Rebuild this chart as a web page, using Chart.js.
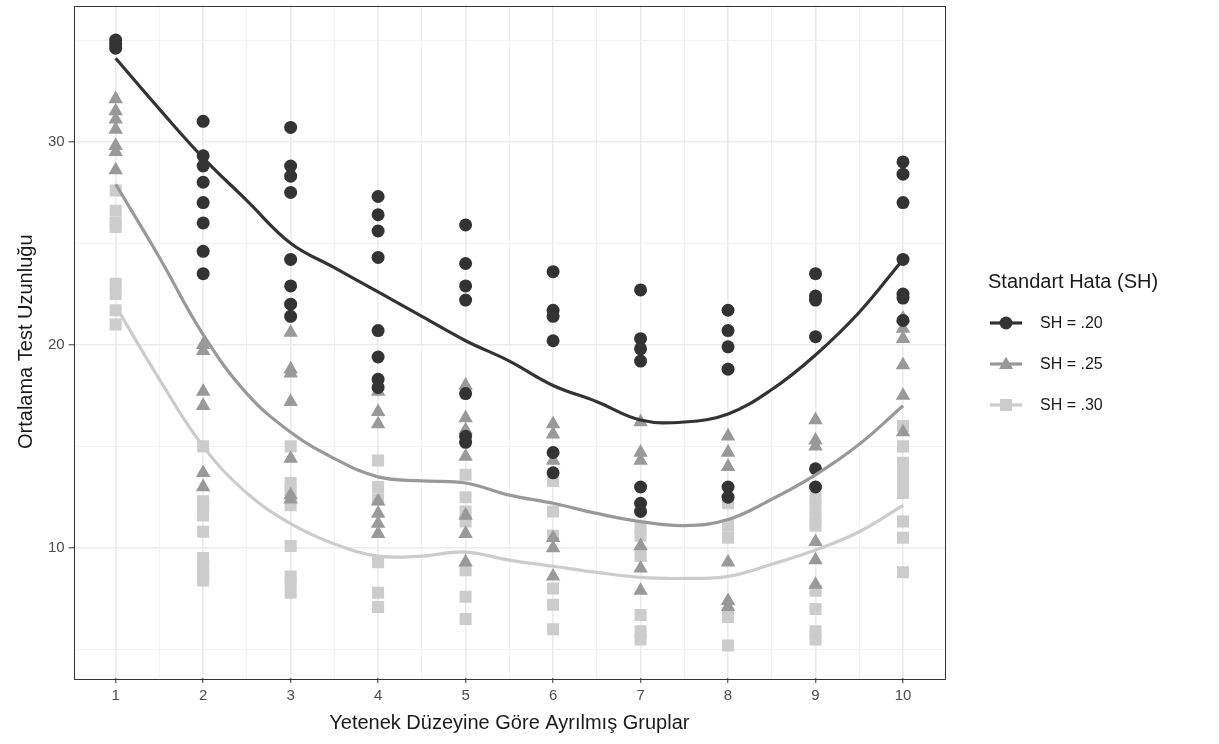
<!DOCTYPE html>
<html>
<head>
<meta charset="utf-8">
<script src="https://cdn.jsdelivr.net/npm/chart.js@4.4.0/dist/chart.umd.min.js"></script>
<style>
  html, body { margin: 0; padding: 0; background: #fff; }
  #wrap { position: relative; width: 1219px; height: 744px; font-family: "Liberation Sans", Arial, sans-serif; }
  #plot { position: absolute; left: 0; top: 0; }
  #legend { position: absolute; left: 988px; top: 270px; color: #1a1a1a; }
  #legend .title { font-size: 20px; margin-bottom: 9px; }
  #legend .row { display: flex; align-items: center; height: 41px; font-size: 16px; }
  #legend svg { margin-left: 2px; margin-right: 18px; }
</style>
</head>
<body>
<div id="wrap">
  <canvas id="plot" width="1219" height="744"></canvas>
  <div id="legend"></div>
</div>
<script>
// Gruplar (yetenek düzeyi)
const groups = [1, 2, 3, 4, 5, 6, 7, 8, 9, 10];

// SH = .20 gözlemleri, her grup için
const sh20 = [
    [35.0, 34.8, 34.6],
    [31.0, 29.3, 28.8, 28.0, 27.0, 26.0, 24.6, 23.5],
    [30.7, 28.8, 28.3, 27.5, 24.2, 22.9, 22.0, 21.4],
    [27.3, 26.4, 25.6, 24.3, 20.7, 19.4, 18.3, 17.9],
    [25.9, 24.0, 22.9, 22.2, 17.6, 15.5, 15.2],
    [23.6, 21.7, 21.4, 20.2, 14.7, 13.7],
    [22.7, 20.3, 19.8, 19.2, 13.0, 12.2, 11.8],
    [21.7, 20.7, 19.9, 18.8, 13.0, 12.5],
    [23.5, 22.4, 22.2, 20.4, 13.9, 13.0],
    [29.0, 28.4, 27.0, 24.2, 22.5, 22.3, 21.2]
];

// SH = .25
const sh25 = [
    [32.1, 31.5, 31.1, 30.6, 29.8, 29.5, 28.6],
    [20.0, 19.7, 17.7, 17.0, 13.7, 13.0],
    [20.6, 18.8, 18.6, 17.2, 14.4, 12.6, 12.4],
    [17.7, 16.7, 16.1, 12.3, 11.7, 11.2, 10.7],
    [18.0, 16.4, 15.8, 14.5, 11.6, 10.7, 9.3],
    [16.1, 15.6, 14.3, 10.5, 10.0, 8.6],
    [16.2, 14.7, 14.3, 10.1, 9.0, 7.9],
    [15.5, 14.7, 14.0, 9.3, 7.4, 7.1],
    [16.3, 15.3, 15.0, 10.3, 9.4, 8.2],
    [21.3, 20.8, 20.3, 19.0, 17.5, 15.7]
];

// SH = .30
const sh30 = [
    [27.6, 26.6, 26.0, 25.8, 23.0, 22.5, 21.7, 21.0],
    [15.0, 12.3, 12.0, 11.6, 10.8, 9.5, 9.1, 8.7, 8.4],
    [15.0, 13.2, 12.8, 12.1, 10.1, 8.6, 8.3, 7.8],
    [14.3, 13.0, 12.4, 9.3, 7.8, 7.1],
    [13.6, 12.5, 11.8, 11.3, 8.9, 7.6, 6.5],
    [13.3, 11.8, 10.6, 8.0, 7.2, 6.0],
    [11.0, 10.6, 9.6, 6.7, 5.9, 5.5],
    [12.2, 11.1, 10.5, 6.6, 5.2],
    [12.5, 12.0, 11.5, 11.1, 7.9, 7.0, 5.9, 5.5],
    [16.0, 15.0, 14.2, 13.7, 13.2, 12.7, 11.3, 10.5, 8.8]
];

// loess eğrileri (yarım grup aralıklarla)
const fitX = [1, 1.5, 2, 2.5, 3, 3.5, 4, 4.5, 5, 5.5, 6, 6.5, 7, 7.5, 8, 8.5, 9, 9.5, 10];
const fit20 = [34.1, 31.6, 29.2, 27.1, 25.0, 23.8, 22.6, 21.4, 20.2, 19.2, 18.0, 17.2, 16.3, 16.2, 16.6, 17.8, 19.5, 21.6, 24.2];
const fit25 = [27.9, 24.3, 20.5, 17.6, 15.7, 14.4, 13.5, 13.3, 13.2, 12.6, 12.2, 11.7, 11.3, 11.1, 11.4, 12.4, 13.6, 15.1, 17.0];
const fit30 = [21.9, 18.3, 15.0, 12.7, 11.2, 10.2, 9.6, 9.6, 9.8, 9.4, 9.1, 8.8, 8.55, 8.5, 8.6, 9.2, 9.9, 10.8, 12.1];

// eksen çizgileri ve etiketleri
const xGrid = [1, 1.5, 2, 2.5, 3, 3.5, 4, 4.5, 5, 5.5, 6, 6.5, 7, 7.5, 8, 8.5, 9, 9.5, 10];
const yGrid = [5, 10, 15, 20, 25, 30, 35];
const yLabels = [10, 20, 30];

const seriesNames = ['SH = .20', 'SH = .25', 'SH = .30'];
const colors = ['#333333', '#999999', '#cccccc'];

function toPoints(rows) {
    const pts = [];
    rows.forEach((vals, i) => vals.forEach(v => pts.push({ x: groups[i], y: v })));
    return pts;
}
function toCurve(ys) {
    return fitX.map((x, i) => ({ x: x, y: ys[i] }));
}

const panelBorder = {
    id: 'panelBorder',
    afterDatasetsDraw(chart) {
        const a = chart.chartArea, ctx = chart.ctx;
        ctx.save();
        ctx.strokeStyle = '#333333';
        ctx.lineWidth = 1;
        ctx.strokeRect(Math.round(a.left) + 0.5, Math.round(a.top) + 0.5,
            Math.round(a.right - a.left), Math.round(a.bottom - a.top));
        ctx.restore();
    }
};

const tickFont = { family: '"Liberation Sans", Arial, sans-serif', size: 15 };
const titleFont = { family: '"Liberation Sans", Arial, sans-serif', size: 20 };

const ctx = document.getElementById('plot').getContext('2d');
const chart = new Chart(ctx, {
    type: 'scatter',
    data: {
        datasets: [
            { label: seriesNames[0], data: toCurve(fit20), type: 'line', borderColor: colors[0], borderWidth: 3.2, pointRadius: 0, tension: 0.4, fill: false, order: 0 },
            { label: seriesNames[1], data: toCurve(fit25), type: 'line', borderColor: colors[1], borderWidth: 3.2, pointRadius: 0, tension: 0.4, fill: false, order: 0 },
            { label: seriesNames[2], data: toCurve(fit30), type: 'line', borderColor: colors[2], borderWidth: 3.2, pointRadius: 0, tension: 0.4, fill: false, order: 0 },
            { label: seriesNames[0], data: toPoints(sh20), pointStyle: 'circle', pointRadius: 6.5, backgroundColor: colors[0], borderWidth: 0, order: 1 },
            { label: seriesNames[1], data: toPoints(sh25), pointStyle: 'triangle', pointRadius: 8.4, backgroundColor: colors[1], borderWidth: 0, order: 2 },
            { label: seriesNames[2], data: toPoints(sh30), pointStyle: 'rect', pointRadius: 8.5, backgroundColor: colors[2], borderWidth: 0, order: 3 }
        ]
    },
    options: {
        responsive: false,
        animation: false,
        events: [],
        layout: { autoPadding: false, padding: { top: 0, right: 274, bottom: 9, left: 14 } },
        plugins: {
            legend: { display: false },
            tooltip: { enabled: false }
        },
        scales: {
            x: {
                type: 'linear',
                min: 0.52,
                max: 10.48,
                afterBuildTicks: s => { s.ticks = xGrid.map(v => ({ value: v })); },
                ticks: {
                    autoSkip: false,
                    maxRotation: 0,
                    padding: 4,
                    color: '#4d4d4d',
                    font: tickFont,
                    callback: v => Number.isInteger(v) ? String(v) : ''
                },
                grid: {
                    color: c => Number.isInteger(c.tick.value) ? '#ebebeb' : '#f2f2f2',
                    lineWidth: c => Number.isInteger(c.tick.value) ? 1.6 : 1,
                    tickColor: c => Number.isInteger(c.tick.value) ? '#333333' : 'rgba(0,0,0,0)',
                    tickLength: 5,
                    tickWidth: 1
                },
                border: { display: false },
                title: {
                    display: true,
                    text: 'Yetenek Düzeyine Göre Ayrılmış Gruplar',
                    color: '#1a1a1a',
                    font: titleFont,
                    padding: { top: 2, bottom: 0 }
                }
            },
            y: {
                type: 'linear',
                min: 3.6,
                max: 36.7,
                afterBuildTicks: s => { s.ticks = yGrid.map(v => ({ value: v })); },
                ticks: {
                    autoSkip: false,
                    padding: 4,
                    color: '#4d4d4d',
                    // küçük satır yüksekliği: üst kenarda fazladan boşluk bırakmasın
                    font: { family: tickFont.family, size: 15, lineHeight: 0.2 },
                    callback: v => yLabels.includes(v) ? String(v) : ''
                },
                grid: {
                    color: c => yLabels.includes(c.tick.value) ? '#ebebeb' : '#f2f2f2',
                    lineWidth: c => yLabels.includes(c.tick.value) ? 1.6 : 1,
                    tickColor: c => yLabels.includes(c.tick.value) ? '#333333' : 'rgba(0,0,0,0)',
                    tickLength: 5,
                    tickWidth: 1
                },
                border: { display: false },
                title: {
                    display: true,
                    text: 'Ortalama Test Uzunluğu',
                    color: '#1a1a1a',
                    font: titleFont,
                    padding: { top: 0, bottom: 6 }
                }
            }
        }
    },
    plugins: [panelBorder]
});

// lejant: çizgi + sembol
const shapes = [
    '<circle cx="16" cy="8" r="6.5" fill="#333333"/>',
    '<polygon points="16,0.5 23,13 9,13" fill="#999999"/>',
    '<rect x="10" y="2" width="12" height="12" fill="#cccccc"/>'
];
const legend = document.getElementById('legend');
let html = '<div class="title">Standart Hata (SH)</div>';
seriesNames.forEach((name, i) => {
    html += '<div class="row"><svg width="32" height="16" viewBox="0 0 32 16">' +
        '<line x1="0" y1="8" x2="32" y2="8" stroke="' + colors[i] + '" stroke-width="3.2"/>' +
        shapes[i] + '</svg><span>' + name + '</span></div>';
});
legend.innerHTML = html;
</script>
</body>
</html>
